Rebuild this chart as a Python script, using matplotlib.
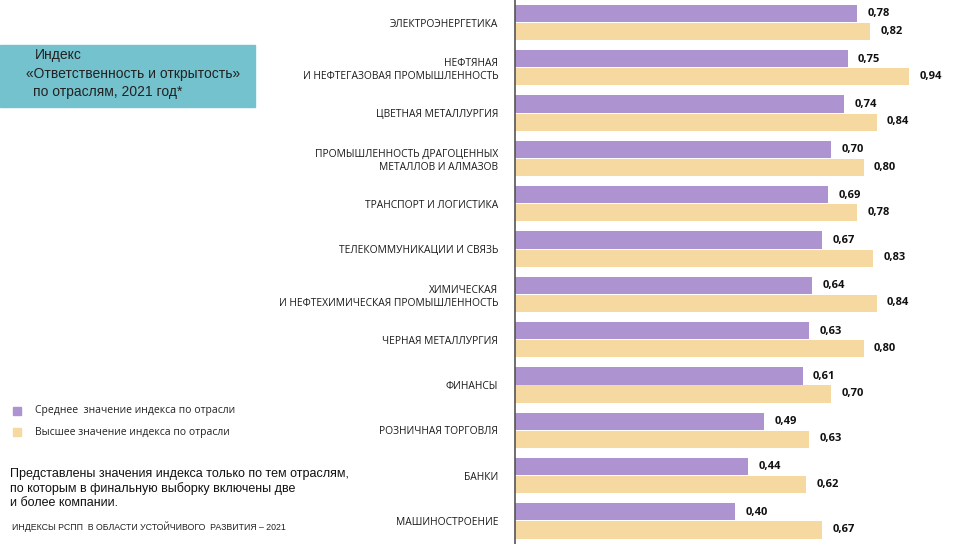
import numpy as np
import matplotlib.pyplot as plt
from matplotlib.patches import Rectangle

sectors = [
    'ЭЛЕКТРОЭНЕРГЕТИКА',
    'НЕФТЯНАЯ\nИ НЕФТЕГАЗОВАЯ ПРОМЫШЛЕННОСТЬ',
    'ЦВЕТНАЯ МЕТАЛЛУРГИЯ',
    'ПРОМЫШЛЕННОСТЬ ДРАГОЦЕННЫХ\nМЕТАЛЛОВ И АЛМАЗОВ',
    'ТРАНСПОРТ И ЛОГИСТИКА',
    'ТЕЛЕКОММУНИКАЦИИ И СВЯЗЬ',
    'ХИМИЧЕСКАЯ\nИ НЕФТЕХИМИЧЕСКАЯ ПРОМЫШЛЕННОСТЬ',
    'ЧЕРНАЯ МЕТАЛЛУРГИЯ',
    'ФИНАНСЫ',
    'РОЗНИЧНАЯ ТОРГОВЛЯ',
    'БАНКИ',
    'МАШИНОСТРОЕНИЕ',
]
mean_vals = [0.78, 0.75, 0.74, 0.70, 0.69, 0.67, 0.64, 0.63, 0.61, 0.49, 0.44, 0.40]
max_vals = [0.82, 0.94, 0.84, 0.80, 0.78, 0.83, 0.84, 0.80, 0.70, 0.63, 0.62, 0.67]

title_lines = ['Индекс', '«Ответственность и открытость»', 'по отраслям, 2021 год*']
legend_labels = ['Среднее  значение индекса по отрасли', 'Высшее значение индекса по отрасли']
note = ('Представлены значения индекса только по тем отраслям,\n'
        'по которым в финальную выборку включены две\n'
        'и более компании.')
footer = 'ИНДЕКСЫ РСПП  В ОБЛАСТИ УСТОЙЧИВОГО  РАЗВИТИЯ – 2021'

purple = '#ae93d1'
yellow = '#f6d9a0'
narrow = ['Liberation Sans Narrow', 'Open Sans', 'DejaVu Sans']
arial = ['Liberation Sans', 'DejaVu Sans']

W, H = 968, 544
fig = plt.figure(figsize=(W / 100, H / 100), dpi=100)

# axes: left edge at the vertical line, spans full height
ax = fig.add_axes([515 / W, 0, 1 - 515 / W, 1])
base = -0.283   # value at the vertical axis line
y = np.arange(len(sectors))
h = 0.38
mean_arr = np.array(mean_vals)
max_arr = np.array(max_vals)
ax.barh(y - h / 2 - 0.01, mean_arr - base, left=base, height=h, color=purple)
ax.barh(y + h / 2 + 0.01, max_arr - base, left=base, height=h, color=yellow)

for i in range(len(sectors)):
    ax.annotate(f'{mean_vals[i]:.2f}'.replace('.', ','), (mean_vals[i], i - h / 2),
                xytext=(7.5, 0), textcoords='offset points', va='center',
                fontsize=8, fontweight='bold', family=narrow, color='#111111')
    ax.annotate(f'{max_vals[i]:.2f}'.replace('.', ','), (max_vals[i], i + h / 2),
                xytext=(7.5, 0), textcoords='offset points', va='center',
                fontsize=8, fontweight='bold', family=narrow, color='#111111')

ax.set_xlim(base, 1.124)
ax.set_ylim(11.51, -0.497)
ax.set_xticks([])
ax.set_yticks(y)
ax.set_yticklabels(sectors, fontsize=7.4, family=narrow, color='#1a1a1a',
                   linespacing=1.25)
ax.tick_params(axis='y', length=0, pad=12)
for s in ['top', 'right', 'bottom']:
    ax.spines[s].set_visible(False)
ax.spines['left'].set_color('#555555')
ax.spines['left'].set_linewidth(1.2)
ax.patch.set_alpha(0)

# title box
fig.patches.append(Rectangle((0, 1 - 107 / H), 255 / W, 62 / H,
                             transform=fig.transFigure, color='#74c2cd', zorder=0))
for (tx, ty), line in zip([(35, 55), (26, 74), (33, 92)], title_lines):
    fig.text(tx / W, 1 - ty / H, line, fontsize=10, family=arial,
             color='#222222', va='center', ha='left')

# legend
for (sy, col), lab in zip([(411, purple), (432, yellow)], legend_labels):
    fig.patches.append(Rectangle((13 / W, 1 - (sy + 4) / H), 8 / W, 8 / H,
                                 transform=fig.transFigure, color=col))
    fig.text(35 / W, 1 - sy / H, lab, fontsize=7.5, family=narrow,
             color='#222222', va='center', ha='left')

fig.text(10 / W, 1 - 488.5 / H, note, fontsize=9, family=arial, color='#111111',
         va='center', ha='left', linespacing=1.25)
fig.text(12 / W, 1 - 527 / H, footer, fontsize=6.3, family=arial, color='#222222',
         va='center', ha='left')

fig.savefig('out.png', dpi=100)
